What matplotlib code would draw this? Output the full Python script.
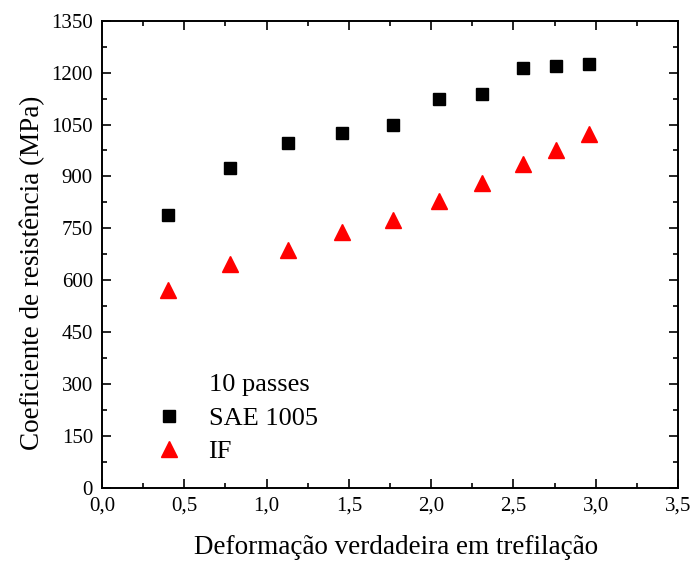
import matplotlib
matplotlib.use('Agg')
from matplotlib import pyplot as plt
from matplotlib.lines import Line2D
from matplotlib.ticker import MultipleLocator, FuncFormatter

plt.rcParams['font.family'] = ['Liberation Serif', 'DejaVu Serif']

# Data
deformacao = [0.40, 0.78, 1.13, 1.46, 1.77, 2.05, 2.31, 2.56, 2.76, 2.96]
sae_1005 = [788, 925, 998, 1025, 1049, 1123, 1139, 1212, 1218, 1224]
aco_if = [572, 647, 688, 739, 774, 830, 882, 936, 976, 1023]

fig = plt.figure(figsize=(6.91, 5.62), dpi=100)
ax = fig.add_axes([0.1476, 0.1317, 0.8336, 0.8315])

ax.plot(deformacao, sae_1005, linestyle='none', marker='s', markersize=8.6,
        color='black', label='SAE 1005')
ax.plot(deformacao, aco_if, linestyle='none', marker='^', markersize=11,
        color='red', label='IF')

ax.set_xlim(0, 3.5)
ax.set_ylim(0, 1350)
ax.xaxis.set_major_locator(MultipleLocator(0.5))
ax.xaxis.set_minor_locator(MultipleLocator(0.25))
ax.yaxis.set_major_locator(MultipleLocator(150))
ax.yaxis.set_minor_locator(MultipleLocator(75))
ax.xaxis.set_major_formatter(FuncFormatter(lambda v, p: f'{v:.1f}'.replace('.', ',')))

ax.tick_params(which='both', direction='in', top=True, right=True, width=1.2,
               labelsize=15)
ax.tick_params(which='major', length=6.2)
ax.tick_params(which='minor', length=3.4)
ax.tick_params(axis='x', pad=6.5)
ax.tick_params(axis='y', pad=6.5)
for s in ax.spines.values():
    s.set_linewidth(1.4)

ax.set_xlabel('Deformação verdadeira em trefilação', fontsize=19.5)
ax.set_ylabel('Coeficiente de resistência (MPa)', fontsize=19.5)
ax.xaxis.set_label_coords(0.51, -0.1)
ax.yaxis.set_label_coords(-0.098, 0.46)

handles, labels = ax.get_legend_handles_labels()
blank = Line2D([], [], linestyle='none', marker='none')
ax.legend([blank] + handles, ['10 passes'] + labels, loc='lower left',
          bbox_to_anchor=(0.075, 0.03), frameon=False, fontsize=19,
          handlelength=1.0, handletextpad=1.0, labelspacing=0.38,
          borderaxespad=0, numpoints=1)

fig.savefig('out.png', dpi=100)
